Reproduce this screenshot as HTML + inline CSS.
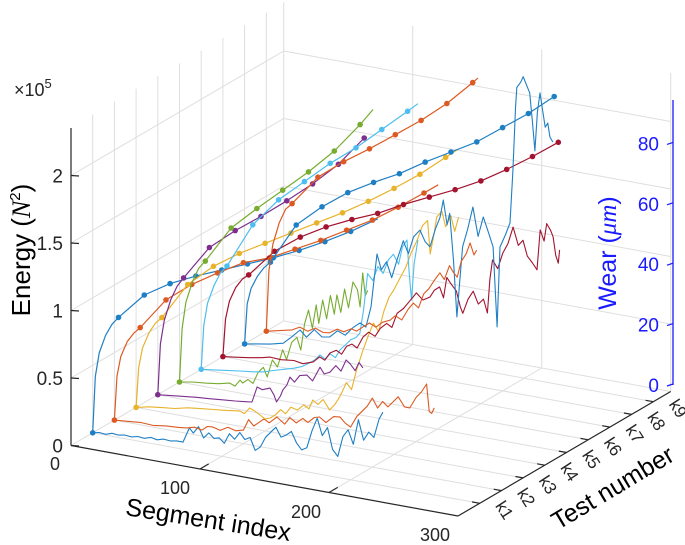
<!DOCTYPE html>
<html><head><meta charset="utf-8"><style>
html,body{margin:0;padding:0;background:#fff;}
svg{display:block;font-family:"Liberation Sans",Arial,sans-serif;}
</style></head><body>
<svg id="chart" width="685" height="545" viewBox="0 0 685 545" xmlns="http://www.w3.org/2000/svg">
<g id="grid"></g>
<g id="axes"></g>
<g id="series"></g>
<g id="labels"></g>
</svg>
<script>
// ---- data ----
const testLabels = ["k1","k2","k3","k4","k5","k6","k7","k8","k9"];
const segTicks = [0,100,200,300];
const energyTicks = [0,0.5,1,1.5,2];
const wearTicks = [0,20,40,60,80];
const colors = ["#1f7fc4","#dc5a22","#e8b22a","#7e2f8e","#77ac30","#4dbeee","#a2142f","#1f7fc4","#dc5a22"];

const energyK1 = [[0,0],[2,0.42],[5,0.6],[10,0.74],[15,0.83],[20,0.89],[40,1.09],[60,1.21],[80,1.30],[100,1.38],[120,1.46],[140,1.54],[160,1.63],[180,1.73],[200,1.84],[221,1.97]];
const energyK2 = [[0,0],[2,0.33],[5,0.48],[10,0.6],[15,0.67],[20,0.72],[40,0.96],[60,1.11],[80,1.23],[100,1.34],[120,1.41],[140,1.51],[160,1.61],[180,1.72],[200,1.83],[220,1.96],[240,2.10],[251,2.18]];
const energyK3 = [[0,0],[2,0.3],[5,0.45],[10,0.57],[15,0.65],[20,0.70],[40,0.98],[60,1.15],[80,1.28],[100,1.39],[120,1.50],[140,1.61],[160,1.72],[180,1.84],[200,1.97],[220,2.11],[240,2.27],[250,2.35]];
const energyK4 = [[0,0],[2,0.38],[5,0.56],[10,0.72],[15,0.83],[20,0.90],[40,1.16],[60,1.32],[80,1.46],[100,1.61],[120,1.77],[140,1.95],[160,2.18]];
const energyK5 = [[0,0],[2,0.4],[5,0.6],[10,0.76],[15,0.87],[20,0.93],[40,1.21],[60,1.39],[80,1.56],[100,1.73],[120,1.92],[140,2.15],[150,2.28]];
const energyK6 = [[0,0],[2,0.33],[5,0.5],[10,0.64],[15,0.74],[20,0.80],[40,1.14],[60,1.36],[80,1.53],[100,1.70],[120,1.85],[140,2.02],[160,2.19],[168,2.26]];
const energyK7 = [[0,0],[2,0.28],[5,0.42],[10,0.53],[15,0.6],[20,0.64],[40,0.85],[60,0.99],[80,1.10],[100,1.19],[120,1.27],[140,1.37],[160,1.46],[180,1.55],[200,1.65],[220,1.77],[240,1.90],[260,2.04]];
const energyK8 = [[0,0],[2,0.3],[5,0.42],[10,0.52],[15,0.59],[20,0.64],[40,0.95],[60,1.12],[80,1.26],[100,1.37],[120,1.47],[140,1.59],[160,1.70],[180,1.81],[200,1.95],[220,2.09],[240,2.25]];
const energyK9 = [[0,0],[2,0.45],[5,0.65],[10,0.82],[15,0.93],[20,0.98],[40,1.21],[60,1.36],[80,1.49],[100,1.63],[120,1.77],[140,1.93],[160,2.12],[164,2.16]];

const wearK1 = [[0,0],[5,0.5],[10,0.3],[15,1],[20,0.8],[25,1.2],[30,1],[35,1.5],[40,1.3],[45,2],[50,1.6],[55,2.2],[60,2],[65,2.4],[70,2.4],[75,7.5],[78,6],[82,8.5],[86,5],[90,7],[94,5.5],[98,6],[102,4.5],[106,8],[110,6.5],[114,9],[118,7],[122,8],[126,4],[130,5.5],[134,9],[138,11],[142,13],[146,10],[150,11],[154,12.5],[158,9],[162,7],[166,8],[170,14],[174,18.5],[178,13],[182,16],[186,9],[190,7],[194,14],[198,16.5],[202,12],[206,20.5],[210,14],[214,17],[218,15.5],[222,22],[225,24.5]];
const wearK2 = [[0,0],[10,0.4],[20,0.8],[30,0.6],[40,1.2],[50,1.5],[56,1.8],[62,2.5],[68,2],[72,3.5],[76,3.7],[82,3],[88,4.5],[94,3.8],[100,4.5],[104,8.3],[108,6.5],[112,8],[116,9.5],[120,8.5],[126,10.9],[132,9],[136,11.5],[141,10.1],[146,12],[150,11],[155,13],[159,13.5],[164,12],[170,14.5],[175,14.7],[179,13],[183,12],[188,16],[192,18],[196,20],[200,23],[204,20],[208,22.5],[212,21],[216,23],[220,25],[225,22],[229,22],[234,26],[238,28],[242,31],[244,22],[246,21.5],[248,23.5]];
const wearK3 = [[0,0],[10,1],[20,1.5],[30,2],[40,3],[50,3.5],[60,4],[70,4.5],[80,5.1],[84,4.5],[88,6.7],[92,6],[96,5],[100,4],[104,4.6],[108,6],[112,8],[116,7],[120,9.5],[125,8.9],[130,11],[134,10],[137,13.2],[141,12],[145,14],[150,10.9],[154,13],[158,16],[163,21],[167,19],[171,26],[176,33],[180,38],[184,42.5],[188,40],[192,47],[196,52],[200,55],[205,59.5],[209,63],[213,68],[218,72.9],[222,78],[226,80],[228,69],[231,76],[233,81.7],[237,84],[240,79],[244,83],[247,78],[250,83]];
const wearK4 = [[0,0],[10,0.5],[20,1],[30,1.5],[40,1.8],[50,2.2],[60,2.6],[68,3],[73,3.3],[77,8.6],[81,8],[87,9],[90,7],[92,4.8],[95,7],[97,9.2],[100,11],[102.5,13.9],[106,12.5],[110,15],[115.6,15.6],[120,14],[125.7,19],[129,17],[133.5,18],[138,20.5],[142,19],[146,23],[149,22],[153,20],[156,23],[159,21.4]];
const wearK5 = [[0,0],[10,0.8],[20,1.2],[30,1.8],[39,2.7],[43,2],[47,4.3],[49,3.5],[53,5],[57,4],[61,8],[65,10],[68,7],[72,13],[76,11],[80,17],[83,14],[87,20],[91,22],[94,18],[97,27],[100,31.8],[103,26],[106,34],[108,28],[111,36],[114,30],[117,38],[120,32],[122,38.6],[125,33],[128,41],[131,35],[134.5,43.9],[138,41.5],[140,36],[142,47.5],[144,40],[146,42]];
const wearK6 = [[0,0],[10,0.6],[20,1.2],[30,1.8],[40,2.3],[48,2.9],[56,4],[64,5],[72,6],[78,7],[84,8.7],[88,10],[92,12],[96,11],[100,13],[104,12],[107.6,14.9],[112,17],[116,19],[120,20],[123,21.7],[126,30],[129,42],[133,40],[137,45],[141,43],[145,47.8],[149,50],[153,47],[156,53],[159.5,55.6],[161,46],[163,35.9],[165,48],[168,56.3]];
const wearK7 = [[0,0],[10,0.6],[20,1.2],[30,2],[36.5,2.7],[45,2.5],[55,3],[62,2.5],[70,3.7],[75,5.8],[79,5],[83,7.7],[88,9],[92,8],[96,11],[100,12],[104,11],[108.6,15],[113,17],[118,16],[122,19],[127,21],[131,20],[135,25],[140,27],[145,30],[150,33],[155,31],[160.5,32.4],[164,35],[168,36.4],[171,33],[173.6,40],[177,38],[181,36],[184,31],[186,29],[190,34],[194,37],[198,33],[202,35],[205,30.6],[207,42],[209,48.6],[213,46],[217,51.5],[221,55],[225,60.8],[229,55],[232.6,57],[236,52],[240,50],[243.5,48],[246,61.5],[249,58],[251,64],[254,62],[256,60],[258,54],[260,51.5],[261,56]];
const wearK8 = [[0,0],[10,0.8],[20,1.5],[30,2.6],[36,5],[43,8],[48,6],[54,9],[60,7],[66,7.5],[72,10],[78,9],[84,12],[89.5,14],[94,13],[98,20],[102.6,38],[106,33],[110,36],[114,31],[118,37],[123,44],[127,40],[131,46],[136,48.6],[140,45],[143.7,43.6],[148,50],[151.5,54],[154,60],[157,52],[159,56],[162,40],[164.6,21.9],[167,35],[169,45.6],[173,52],[177,59.5],[181,50],[185,56.8],[189,52],[192.6,47.4],[195.7,21],[198,47.8],[202,52],[205.7,56.4],[208,74],[210,95],[211,102],[214,104],[216,106],[219,103],[221,101],[223,92],[225,82],[227,95],[229,101.6],[231,96],[233,90.5],[235,92],[236.7,87.5],[239,86]];
const wearK9 = [[0,0],[10,1],[20,2],[26,3.4],[32,2.5],[38,4],[44,3],[49,3.3],[55,5],[60,4.5],[66,6],[70,5.5],[75,7.3],[80,9],[85,8],[90,10],[96,11.2],[100,13],[105,12],[110,16],[114,18.3],[118,17],[122,22],[126,24],[130,27],[134.6,30],[138,28],[142,33],[145,31],[148,29.6],[151,35],[155,38],[158,41.8],[161,38],[163,39.8]];

const energySeries = [energyK1,energyK2,energyK3,energyK4,energyK5,energyK6,energyK7,energyK8,energyK9];
const wearSeries = [wearK1,wearK2,wearK3,wearK4,wearK5,wearK6,wearK7,wearK8,wearK9];

// ---- projection ----
const SMAX=300, KMAX=9.8, EMAX=2.36;
function P(s,k,zpx){ return [71+1.29*s+21.7*k, 445.5+0.235*s-12.7*k-zpx]; }
function ePx(e){ return e*135; }
function wPx(w){ return w*3; }
function wearAxisY(w){ return 385-3.02*w; }

const NS="http://www.w3.org/2000/svg";
function mk(tag, attrs, parent){ const el=document.createElementNS(NS,tag); for(const a in attrs) el.setAttribute(a,attrs[a]); parent.appendChild(el); return el; }
const gGrid=document.getElementById('grid'), gAxes=document.getElementById('axes'), gSer=document.getElementById('series'), gLab=document.getElementById('labels');
function line(a,b,stroke,w,parent,name){
  const el=mk('line',{x1:a[0].toFixed(1),y1:a[1].toFixed(1),x2:b[0].toFixed(1),y2:b[1].toFixed(1),stroke:stroke,'stroke-width':w},parent);
  
  
  return el;
}
const GC="#dedede";
for(let k=1;k<=9;k++){ line(P(0,k,0),P(0,k,ePx(EMAX)),GC,1,gGrid,'grid-line-test'); }
line(P(0,KMAX,0),P(0,KMAX,ePx(EMAX)),GC,1,gGrid,'grid-line-corner');
[100,200,300].forEach(s=>{ line(P(s,KMAX,0),P(s,KMAX,ePx(EMAX)),GC,1,gGrid,'grid-line-segment'); });
energyTicks.forEach(e=>{
  line(P(0,0,ePx(e)),P(0,KMAX,ePx(e)),GC,1,gGrid,'grid-line-energy-left');
  line(P(0,KMAX,ePx(e)),P(SMAX,KMAX,ePx(e)),GC,1,gGrid,'grid-line-energy-back');
});
for(let k=1;k<=9;k++){ line(P(0,k,0),P(SMAX,k,0),GC,1,gGrid,'floor-grid-test'); }
[100,200].forEach(s=>{ line(P(s,0,0),P(s,KMAX,0),GC,1,gGrid,'floor-grid-segment'); });

const AC="#262626";
line([71,128],[71,445.5],AC,1.2,gAxes,'energy-axis');
line(P(0,0,0),P(SMAX,0,0),AC,1.2,gAxes,'segment-axis');
line(P(SMAX,0,0),P(SMAX,KMAX,0),AC,1.2,gAxes,'test-axis');
energyTicks.forEach(e=>{
  const y=445.5-ePx(e);
  line([71,y],[79,y+0.5],AC,1.2,gAxes,'energy-tick');
  const t=mk('text',{x:63,y:y+7,'text-anchor':'end','font-size':19,fill:AC},gLab);
  t.textContent=String(e);
  
  
});
[100,200].forEach(s=>{ line(P(s,0,0),P(s,0.4,0),AC,1.2,gAxes,'segment-tick'); });
const segLabelPos=[[55,470],[175,494],[306,518],[435,541]];
segTicks.forEach((s,i)=>{
  const t=mk('text',{x:segLabelPos[i][0],y:segLabelPos[i][1],'text-anchor':'middle','font-size':18,fill:AC},gLab);
  t.textContent=String(s);
  
  
});
testLabels.forEach((lab,i)=>{
  const k=i+1;
  line(P(SMAX,k,0),P(SMAX-6,k,0),AC,1.2,gAxes,'test-tick');
  const c=P(SMAX,k,0); const cx=c[0]+20, cy=c[1]+10;
  const t=mk('text',{x:cx,y:cy,'text-anchor':'middle','font-size':17,fill:AC,transform:`rotate(57 ${cx} ${cy})`},gLab);
  t.textContent=lab;
  
  
});
const WC="#1a1aff";
line([673,385],[673,100],WC,1.3,gAxes,'wear-axis');
wearTicks.forEach(w=>{
  const y=wearAxisY(w);
  line([667,y+1],[673,y-1],WC,1.2,gAxes,'wear-tick');
  const t=mk('text',{x:659,y:y+7,'text-anchor':'end','font-size':19,fill:WC},gLab);
  t.textContent=String(w);
  
  
});

energySeries.forEach((ser,i)=>{
  const k=i+1, col=colors[i];
  const wd=wearSeries[i].map(p=>P(p[0],k,wPx(p[1])));
  const wp=mk('path',{d:'M'+wd.map(q=>q[0].toFixed(1)+','+q[1].toFixed(1)).join('L'),fill:'none',stroke:col,'stroke-width':1.1,'stroke-linejoin':'round'},gSer);
  
  
  const ed=ser.map(p=>P(p[0],k,ePx(p[1])));
  const ep=mk('path',{d:'M'+ed.map(q=>q[0].toFixed(1)+','+q[1].toFixed(1)).join('L'),fill:'none',stroke:col,'stroke-width':1.2,'stroke-linejoin':'round'},gSer);
  
  
  ser.forEach(p=>{
    if(p[0]%20===0){
      const q=P(p[0],k,ePx(p[1]));
      const c=mk('circle',{cx:q[0].toFixed(1),cy:q[1].toFixed(1),r:2.8,fill:col},gSer);
      
      
    }
  });
});
</script>
<div style="position:absolute;left:0;top:0;width:685px;height:545px;pointer-events:none;">
<svg width="685" height="545" viewBox="0 0 685 545" xmlns="http://www.w3.org/2000/svg" style="font-family:'Liberation Sans',Arial,sans-serif;">
<text x="14" y="96" font-size="18" fill="#262626">×10<tspan font-size="13" dy="-8">5</tspan></text>
<text x="30" y="250" font-size="26" fill="#000" text-anchor="middle" transform="rotate(-90 30 250)">Energy (<tspan font-family="'Liberation Serif',serif" font-style="italic">N</tspan><tspan font-size="15" dy="-10">2</tspan><tspan dy="10">)</tspan></text>
<text x="207" y="528" font-size="25" fill="#000" text-anchor="middle" transform="rotate(9 207 528)">Segment index</text>
<text x="617" y="495" font-size="25" fill="#000" text-anchor="middle" transform="rotate(-31 617 495)">Test number</text>
<text x="616" y="253" font-size="25" fill="#1a1aff" text-anchor="middle" transform="rotate(-90 616 253)">Wear (<tspan font-family="'Liberation Serif',serif" font-style="italic">μm</tspan>)</text>
</svg>
</div>
</body></html>
